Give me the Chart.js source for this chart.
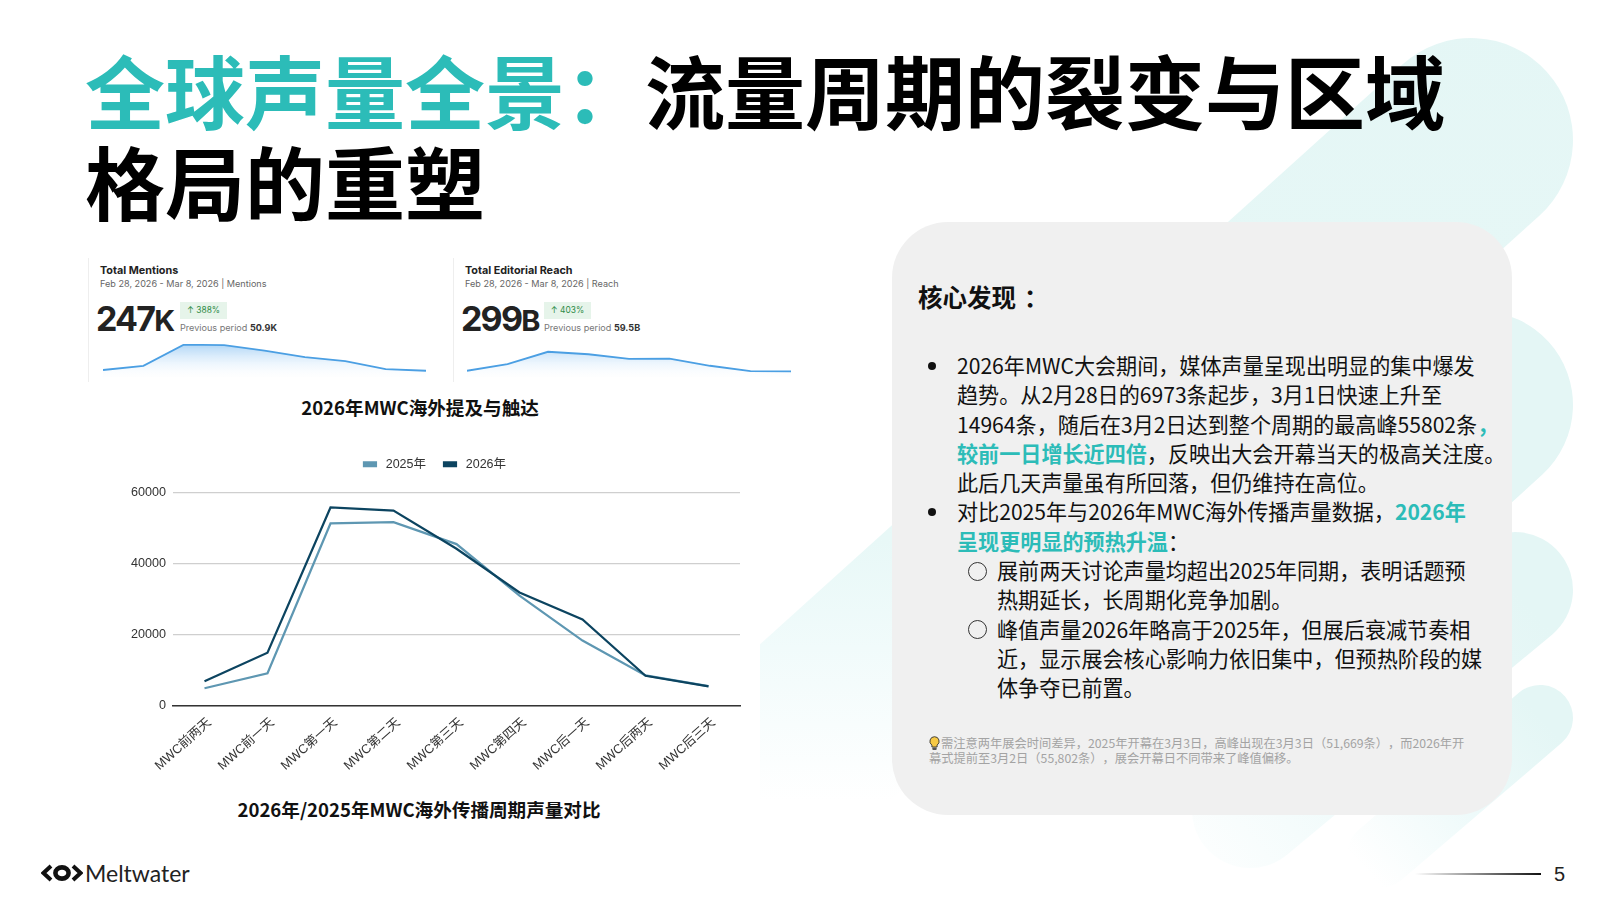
<!DOCTYPE html>
<html lang="zh-CN">
<head>
<meta charset="utf-8">
<title>全球声量全景</title>
<script src="https://cdn.jsdelivr.net/npm/chart.js@4"></script>
<style>
html, body { margin: 0; padding: 0; background: #fff; }
#page { position: relative; width: 1600px; height: 900px; overflow: hidden; background: #fff;
  font-family: "Noto Sans CJK SC", "Noto Sans", sans-serif; color: #111; }
#bg { position: absolute; left: 0; top: 0; }
.abs { position: absolute; white-space: nowrap; }
.teal { color: #2cbcb8; }
#title { left: 85px; top: 43px; font-size: 80px; line-height: 91px; font-weight: 700; color: #000; }
#card { position: absolute; left: 892px; top: 222px; width: 620px; height: 593px; border-radius: 56px; background: #f0f0f0; }
#cardHead { left: 918px; top: 280px; font-size: 24.5px; line-height: 34px; font-weight: 700; }
.body { font-size: 21.1px; line-height: 29.25px; color: #111; }
.body b { font-weight: 700; }
.dot { width: 8px; height: 8px; border-radius: 50%; background: #111; }
.ring { width: 17px; height: 17px; border-radius: 50%; border: 1.4px solid #333; }
#note { left: 929px; top: 736px; font-size: 12.25px; line-height: 15px; color: #a3a3a3; text-spacing-trim: space-all; }
.caption { font-size: 18.6px; line-height: 26px; font-weight: 700; color: #111; transform: translateX(-50%); }
.shot { position: absolute; top: 258px; height: 124px; width: 1px; background: #eeeeee; }
.shotTitle { font-family: Inter, "Liberation Sans", sans-serif; font-size: 10.8px; font-weight: 700; color: #222; top: 264px; line-height: 14px; }
.shotSub { font-family: Inter, "Liberation Sans", sans-serif; font-size: 9.1px; color: #666; top: 277px; line-height: 14px; }
.shotBig { font-family: Inter, "Liberation Sans", sans-serif; font-size: 34px; font-weight: 700; color: #222; top: 300px; line-height: 38px; letter-spacing: -1.8px; }
.shotBig span { font-size: 29px; }
.badge { font-family: Inter, "Liberation Sans", sans-serif; top: 302px; height: 17px; width: 47px; line-height: 17px; background: #e6f4ea;
  text-align: center; font-size: 8.4px; color: #2e8b47; }
.prev { font-family: Inter, "Liberation Sans", sans-serif; font-size: 9.1px; color: #777; top: 321px; line-height: 14px; }
.prev b { color: #333; }
canvas { display: block; }
.chartBox { position: absolute; }
#logoText { left: 85px; top: 858px; font-family: Lato, sans-serif; font-size: 23px; line-height: 30px; color: #222; }
#pageNo { left: 1554px; top: 860px; font-family: "Liberation Sans", sans-serif; font-size: 20px; line-height: 28px; color: #222; }
#pageLine { position: absolute; left: 1415px; top: 873px; width: 126px; height: 2px; background: linear-gradient(to right, rgba(0,0,0,0), #111); }
</style>
</head>
<body>
<div id="page">

  <svg id="bg" width="1600" height="900" xmlns="http://www.w3.org/2000/svg">
    <defs>
      <linearGradient id="fadeBig" gradientUnits="userSpaceOnUse" x1="0" y1="0" x2="0" y2="900">
        <stop offset="0" stop-color="#e4f6f5"/>
        <stop offset="0.6" stop-color="#e8f8f7"/>
        <stop offset="0.72" stop-color="#f1fbfb"/>
        <stop offset="0.89" stop-color="#ffffff"/>
      </linearGradient>
      <linearGradient id="fadeThree" gradientUnits="userSpaceOnUse" x1="1515" y1="590" x2="1180" y2="880">
        <stop offset="0" stop-color="#e4f6f5"/>
        <stop offset="0.55" stop-color="#eefafa"/>
        <stop offset="1" stop-color="#ffffff"/>
      </linearGradient>
      <linearGradient id="fadeFour" gradientUnits="userSpaceOnUse" x1="1540" y1="717" x2="1370" y2="875">
        <stop offset="0" stop-color="#e4f6f5"/>
        <stop offset="0.5" stop-color="#eefafa"/>
        <stop offset="1" stop-color="#ffffff"/>
      </linearGradient>
      <clipPath id="cutLeft"><rect x="760" y="0" width="840" height="900"/></clipPath>
    </defs>
    <line x1="1471" y1="140" x2="660" y2="872" stroke="url(#fadeBig)" stroke-width="204" stroke-linecap="round" clip-path="url(#cutLeft)"/>
    <line x1="1479" y1="405" x2="1200" y2="660" stroke="#e4f6f5" stroke-width="188" stroke-linecap="round"/>
    <line x1="1515" y1="590" x2="1250" y2="810" stroke="url(#fadeThree)" stroke-width="116" stroke-linecap="round"/>
    <line x1="1540" y1="718" x2="1380" y2="855" stroke="url(#fadeFour)" stroke-width="66" stroke-linecap="round"/>
  </svg>

  <div id="title" class="abs"><span class="teal">全球声量全景：</span>流量周期的裂变与区域<br>格局的重塑</div>

  <!-- dashboard cards -->
  <div class="shot" style="left:88px"></div>
  <div class="shot" style="left:453px"></div>
  <div class="abs shotTitle" style="left:100px">Total Mentions</div>
  <div class="abs shotSub" style="left:100px">Feb 28, 2026 - Mar 8, 2026 | Mentions</div>
  <div class="abs shotBig" style="left:96px">247<span>K</span></div>
  <div class="abs badge" style="left:180px">↑ 388%</div>
  <div class="abs prev" style="left:180px">Previous period <b>50.9K</b></div>
  <div class="abs shotTitle" style="left:465px">Total Editorial Reach</div>
  <div class="abs shotSub" style="left:465px">Feb 28, 2026 - Mar 8, 2026 | Reach</div>
  <div class="abs shotBig" style="left:461px">299<span>B</span></div>
  <div class="abs badge" style="left:544px">↑ 403%</div>
  <div class="abs prev" style="left:544px">Previous period <b>59.5B</b></div>
  <div class="chartBox" style="left:103px;top:344px;width:323px;height:37px"><canvas id="sparkMentions"></canvas></div>
  <div class="chartBox" style="left:467px;top:344px;width:324px;height:37px"><canvas id="sparkReach"></canvas></div>
  <div class="abs caption" style="left:420px;top:394px">2026年MWC海外提及与触达</div>

  <div class="chartBox" style="left:130px;top:440px;width:631px;height:342px"><canvas id="mainChart"></canvas></div>
  <div class="abs caption" style="left:419px;top:796px">2026年/2025年MWC海外传播周期声量对比</div>

  <!-- findings card -->
  <div id="card"></div>
  <div id="cardHead" class="abs">核心发现<span style="margin-left:8px">：</span></div>
  <div class="abs dot" style="left:928px;top:362px"></div>
  <div class="abs body" style="left:957px;top:351px">2026年MWC大会期间，媒体声量呈现出明显的集中爆发<br>趋势。从2月28日的6973条起步，3月1日快速上升至<br>14964条，随后在3月2日达到整个周期的最高峰55802条<b class="teal">，</b><br><b class="teal">较前一日增长近四倍</b>，反映出大会开幕当天的极高关注度。<br>此后几天声量虽有所回落，但仍维持在高位。<br>对比2025年与2026年MWC海外传播声量数据，<b class="teal">2026年</b><br><b class="teal">呈现更明显的预热升温</b>：</div>
  <div class="abs dot" style="left:928px;top:508px"></div>
  <div class="abs ring" style="left:968px;top:562px"></div>
  <div class="abs body" style="left:997px;top:556px">展前两天讨论声量均超出2025年同期，表明话题预<br>热期延长，长周期化竞争加剧。<br>峰值声量2026年略高于2025年，但展后衰减节奏相<br>近，显示展会核心影响力依旧集中，但预热阶段的媒<br>体争夺已前置。</div>
  <div class="abs ring" style="left:968px;top:620px"></div>
  <svg class="abs" style="left:929px;top:736px" width="11" height="15" viewBox="0 0 11 15">
    <path d="M5.5 .7a4.6 4.6 0 0 1 2.6 8.4V11H2.9V9.1A4.6 4.6 0 0 1 5.5 .7z" fill="#f6c945" stroke="#333" stroke-width=".9"/>
    <rect x="3.3" y="11.4" width="4.4" height="2.6" rx="1" fill="#555"/>
  </svg>
  <div id="note" class="abs"><span style="margin-left:12px">需注意两年展会时间差异，2025年开幕在3月3日，高峰出现在3月3日（51,669条），而2026年开</span><br>幕式提前至3月2日（55,802条），展会开幕日不同带来了峰值偏移。</div>

  <!-- footer -->
  <svg class="abs" style="left:41px;top:864px" width="42" height="18" viewBox="0 0 42 18">
    <path d="M10 2 L2.5 9 L10 16" fill="none" stroke="#111" stroke-width="4"/>
    <path d="M32 2 L39.5 9 L32 16" fill="none" stroke="#111" stroke-width="4"/>
    <ellipse cx="21" cy="9" rx="6.6" ry="5.6" fill="none" stroke="#111" stroke-width="4.6"/>
  </svg>
  <div id="logoText" class="abs">Meltwater</div>
  <div id="pageLine"></div>
  <div id="pageNo" class="abs">5</div>
</div>

<script>
// chart data
var periodLabels = ["MWC前两天", "MWC前一天", "MWC第一天", "MWC第二天", "MWC第三天", "MWC第四天", "MWC后一天", "MWC后两天", "MWC后三天"];
var seriesNames = ["2025年", "2026年"];
var values2025 = [5000, 9200, 51300, 51669, 45500, 31000, 18400, 8600, 5600];
var values2026 = [6973, 14964, 55802, 54900, 44200, 31900, 24300, 8500, 5500];
var yTicks = [0, 20000, 40000, 60000];
var sparkDays = ["Feb 28", "Mar 1", "Mar 2", "Mar 3", "Mar 4", "Mar 5", "Mar 6", "Mar 7", "Mar 8"];
var sparkMentionValues = [6973, 14964, 55802, 54900, 44200, 31900, 24300, 8500, 5500];
var sparkReachValues = [8, 29, 69, 61, 46, 47, 24, 7, 6];

var tickFont = "'Liberation Sans', 'Noto Sans CJK SC', sans-serif";

// leaves more room between the legend and the plot
var legendGapPlugin = {
    id: 'legendGap',
    beforeInit: function (chart) {
        var origFit = chart.legend.fit;
        chart.legend.fit = function () {
            origFit.call(this);
            this.height += 12;
        };
    }
};

function BuildSpark(canvasId, dataVals, yMin, yMax) {
    var ctx = document.getElementById(canvasId);
    return new Chart(ctx, {
        type: 'line',
        data: {
            labels: sparkDays,
            datasets: [{
                data: dataVals,
                borderColor: '#4b9fe3',
                borderWidth: 1.8,
                pointRadius: 0,
                tension: 0,
                clip: false,
                fill: 'start',
                backgroundColor: function (c) {
                    var area = c.chart.chartArea;
                    if (!area) return 'rgba(75,159,227,0.2)';
                    var grad = c.chart.ctx.createLinearGradient(0, area.top, 0, area.bottom);
                    grad.addColorStop(0, 'rgba(120,185,240,0.6)');
                    grad.addColorStop(1, 'rgba(255,255,255,0)');
                    return grad;
                }
            }]
        },
        options: {
            responsive: true,
            maintainAspectRatio: false,
            animation: false,
            layout: { padding: 0 },
            plugins: { legend: { display: false }, tooltip: { enabled: false } },
            scales: {
                x: { display: false },
                y: { display: false, min: yMin, max: yMax }
            }
        }
    });
}

function BuildMainChart() {
    var ctx = document.getElementById('mainChart');
    return new Chart(ctx, {
        type: 'line',
        plugins: [legendGapPlugin],
        data: {
            labels: periodLabels,
            datasets: [{
                label: seriesNames[0],
                data: values2025,
                borderColor: '#5e97b2',
                backgroundColor: '#5e97b2',
                borderWidth: 2.2,
                pointRadius: 0,
                tension: 0,
                order: 2
            }, {
                label: seriesNames[1],
                data: values2026,
                borderColor: '#0c4460',
                backgroundColor: '#0c4460',
                borderWidth: 2.2,
                pointRadius: 0,
                tension: 0,
                order: 1
            }]
        },
        options: {
            responsive: true,
            maintainAspectRatio: false,
            animation: false,
            layout: { padding: { right: 21 } },
            plugins: {
                tooltip: { enabled: false },
                legend: {
                    position: 'top',
                    labels: {
                        boxWidth: 12,
                        boxHeight: 4,
                        padding: 18,
                        color: '#333',
                        font: { family: tickFont, size: 12.5 },
                        sort: function (a, b) { return a.datasetIndex - b.datasetIndex; },
                        generateLabels: function (chart) {
                            var items = Chart.defaults.plugins.legend.labels.generateLabels(chart);
                            items.forEach(function (item) { item.text = ' ' + item.text; });
                            return items;
                        }
                    }
                }
            },
            scales: {
                x: {
                    offset: true,
                    grid: { display: false },
                    border: { color: '#333', width: 1.5 },
                    ticks: {
                        color: '#333',
                        font: { family: tickFont, size: 12.8 },
                        minRotation: 42,
                        maxRotation: 42,
                        autoSkip: false,
                        labelOffset: 5,
                        padding: 1
                    },
                    afterFit: function (scale) { scale.height = 76; }
                },
                y: {
                    min: yTicks[0],
                    max: yTicks[yTicks.length - 1],
                    border: { display: false },
                    grid: { color: '#cfcfcf', lineWidth: 1.3, drawTicks: false },
                    ticks: {
                        stepSize: yTicks[1] - yTicks[0],
                        color: '#333',
                        padding: 7,
                        font: { family: tickFont, size: 12.6 },
                        callback: function (val) { return String(val); }
                    },
                    afterFit: function (scale) { scale.width = 43; }
                }
            }
        }
    });
}

// starting scripts
BuildSpark('sparkMentions', sparkMentionValues, -14260, 57150);
BuildSpark('sparkReach', sparkReachValues, -25, 94);
BuildMainChart();
</script>
</body>
</html>
